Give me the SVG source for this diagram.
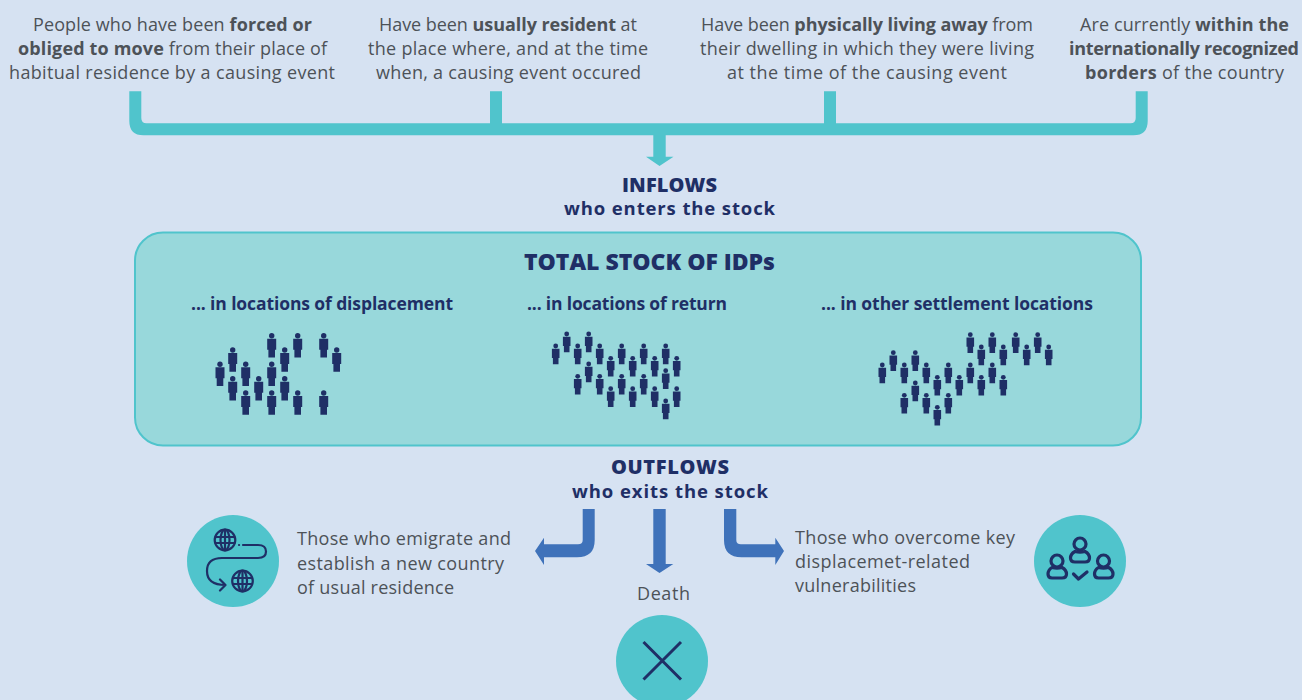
<svg xmlns="http://www.w3.org/2000/svg" xmlns:xlink="http://www.w3.org/1999/xlink" width="1302" height="700" viewBox="0 0 1302 700">
<style>
text{font-family:"Open Sans","Noto Sans",sans-serif}
.b{font-size:18px;fill:#4d5258;text-anchor:middle}
.l{font-size:18px;fill:#4d5258}
.s{font-weight:700}
.h{font-size:20px;font-weight:800;fill:#1f2f66;text-anchor:middle}
.g{font-size:18.500px;font-weight:700;fill:#1f2f66;text-anchor:middle}
.n{font-size:17.500px}
.i{fill:none;stroke:#1f2f66;stroke-width:2.200;stroke-linecap:round;stroke-linejoin:round}
.c{fill:#50c4cc}
.tf{fill:#50c4cc}
.of{fill:#3f72ba}
</style>
<defs>
<g id="p"><circle cx="0" cy="0" r="2.700" fill="#1f2f66"/><path d="M-4.500 3H4.500V14H3.300V21.700H-3.300V14H-4.500Z" fill="#1f2f66"/></g>
<g id="q"><circle cx="0" cy="0" r="2.400" fill="#1f2f66"/><path d="M-3.800 2.700H3.800V12H2.800V18.300H-2.800V12H-3.800Z" fill="#1f2f66"/></g>
</defs>
<rect width="1302" height="700" fill="#d6e2f2"/>
<g id="connectors">
<path class="tf" d="M129.300 91.300H141.300V118Q141.300 123.300 146.500 123.300H490V91.300H502V123.300H824V91.300H836V123.300H1130.500Q1135.700 123.300 1135.700 118V91.300H1147.700V121Q1147.700 135.300 1133.500 135.300H143.500Q129.300 135.300 129.300 121Z"/>
<path class="tf" d="M653.300 135H665.700V156.700H673.500L659.500 166L646 156.700H653.300Z"/>
<path class="of" d="M582.700 509H594.700V540Q594.700 557.300 577 557.300H544V565L535 551L544 537.700V544.300H578Q582.700 544.300 582.700 540Z"/>
<path class="of" d="M653.300 509H665.700V564H673.300L659.500 573L646 564H653.300Z"/>
<path class="of" d="M724 509H736.300V540Q736.300 544.300 741 544.300H775.300V537.700L784 551L775.300 565V557.300H741.500Q724 557.300 724 540Z"/>
</g>
<g id="criterion-1">
<text class="b" x="172.500" y="31" textLength="279">People who have been <tspan class="s">forced or</tspan></text>
<text class="b" x="172.500" y="55" textLength="309"><tspan class="s">obliged to move</tspan> from their place of</text>
<text class="b" x="172" y="79" textLength="326">habitual residence by a causing event</text>
</g>
<g id="criterion-2">
<text class="b" x="508" y="31" textLength="258">Have been <tspan class="s">usually resident</tspan> at</text>
<text class="b" x="508" y="55" textLength="280">the place where, and at the time</text>
<text class="b" x="508.500" y="79" textLength="265">when, a causing event occured</text>
</g>
<g id="criterion-3">
<text class="b" x="867" y="31" textLength="332">Have been <tspan class="s">physically living away</tspan> from</text>
<text class="b" x="867" y="55" textLength="334">their dwelling in which they were living</text>
<text class="b" x="867" y="79" textLength="280">at the time of the causing event</text>
</g>
<g id="criterion-4">
<text class="b" x="1184.500" y="31" textLength="209">Are currently <tspan class="s">within the</tspan></text>
<text class="b s" x="1184" y="55" textLength="230">internationally recognized</text>
<text class="b" x="1184.500" y="79" textLength="199"><tspan class="s">borders</tspan> of the country</text>
</g>
<g id="inflows">
<text class="h" x="669.500" y="191.500" textLength="95">INFLOWS</text>
<text class="g" x="669.500" y="215" textLength="211">who enters the stock</text>
</g>
<g id="stock">
<rect x="135" y="232.500" width="1006" height="213" rx="28" fill="#98d8db" stroke="#50c4cc" stroke-width="2"/>
<text class="h" x="649.500" y="269.500" textLength="251" style="font-size:23px">TOTAL STOCK OF IDPs</text>
</g>
<g id="displacement">
<text class="g n" x="322" y="310" textLength="262">... in locations of displacement</text>
<use xlink:href="#p" x="271.700" y="335.700"/><use xlink:href="#p" x="297.700" y="335.700"/><use xlink:href="#p" x="323.700" y="335.700"/>
<use xlink:href="#p" x="232.700" y="350"/><use xlink:href="#p" x="284.700" y="350"/><use xlink:href="#p" x="336.700" y="350"/>
<use xlink:href="#p" x="220" y="364.300"/><use xlink:href="#p" x="245.700" y="364.300"/><use xlink:href="#p" x="271.700" y="364.300"/>
<use xlink:href="#p" x="258.700" y="378.700"/><use xlink:href="#p" x="232.700" y="378.700"/><use xlink:href="#p" x="284.700" y="378.700"/>
<use xlink:href="#p" x="245.700" y="393"/><use xlink:href="#p" x="271.700" y="393"/><use xlink:href="#p" x="297.700" y="393"/><use xlink:href="#p" x="323.700" y="393"/>
</g>
<g id="return">
<text class="g n" x="627" y="310" textLength="200">... in locations of return</text>
<use xlink:href="#q" x="566.700" y="334"/><use xlink:href="#q" x="588.700" y="334"/>
<use xlink:href="#q" x="555.700" y="346"/><use xlink:href="#q" x="577.700" y="346"/><use xlink:href="#q" x="599.700" y="346"/><use xlink:href="#q" x="621.700" y="346"/><use xlink:href="#q" x="643.700" y="346"/><use xlink:href="#q" x="665.700" y="346"/>
<use xlink:href="#q" x="610.700" y="358.300"/><use xlink:href="#q" x="632.700" y="358.300"/><use xlink:href="#q" x="654.700" y="358.300"/><use xlink:href="#q" x="676.700" y="358.300"/>
<use xlink:href="#q" x="588.700" y="364"/><use xlink:href="#q" x="665.700" y="370.700"/>
<use xlink:href="#q" x="577.700" y="376.300"/><use xlink:href="#q" x="599.700" y="376.300"/><use xlink:href="#q" x="621.700" y="376.300"/><use xlink:href="#q" x="643.700" y="376.300"/>
<use xlink:href="#q" x="610.700" y="388.700"/><use xlink:href="#q" x="632.700" y="388.700"/><use xlink:href="#q" x="654.700" y="388.700"/><use xlink:href="#q" x="676.700" y="388.700"/>
<use xlink:href="#q" x="665.700" y="401"/>
</g>
<g id="other">
<text class="g n" x="957" y="310" textLength="272">... in other settlement locations</text>
<use xlink:href="#q" x="970.300" y="334.700"/><use xlink:href="#q" x="992.300" y="334.700"/><use xlink:href="#q" x="1015.700" y="334.700"/><use xlink:href="#q" x="1037.700" y="334.700"/>
<use xlink:href="#q" x="981.300" y="347"/><use xlink:href="#q" x="1003.300" y="347"/><use xlink:href="#q" x="1026.700" y="347"/><use xlink:href="#q" x="1048.700" y="347"/>
<use xlink:href="#q" x="893.300" y="352.700"/><use xlink:href="#q" x="915.300" y="352.700"/>
<use xlink:href="#q" x="882.300" y="365"/><use xlink:href="#q" x="904.300" y="365"/><use xlink:href="#q" x="926.300" y="365"/><use xlink:href="#q" x="948.300" y="365"/><use xlink:href="#q" x="970.300" y="365"/><use xlink:href="#q" x="992.300" y="365"/>
<use xlink:href="#q" x="937.300" y="377.300"/><use xlink:href="#q" x="959.300" y="377.300"/><use xlink:href="#q" x="981.300" y="377.300"/><use xlink:href="#q" x="1003.300" y="377.300"/>
<use xlink:href="#q" x="915.300" y="383"/>
<use xlink:href="#q" x="904.300" y="395.300"/><use xlink:href="#q" x="926.300" y="395.300"/><use xlink:href="#q" x="948.300" y="395.300"/>
<use xlink:href="#q" x="937.300" y="407.300"/>
</g>
<g id="outflows">
<text class="h" x="670" y="473.500" textLength="118">OUTFLOWS</text>
<text class="g" x="670" y="498" textLength="196">who exits the stock</text>
</g>
<g id="emigrate">
<circle class="c" cx="233" cy="561" r="46"/>
<g class="i">
<circle cx="225" cy="540" r="10.300"/><ellipse cx="225" cy="540" rx="4.500" ry="10.300"/><path d="M225 530V550M215.500 537H234.500M215.500 543H234.500"/>
<circle cx="242.500" cy="581" r="10.300"/><ellipse cx="242.500" cy="581" rx="4.500" ry="10.300"/><path d="M242.500 571V591M233 578H252M233 584H252"/>
<path d="M239 545H239.100M243 545H258Q266 545 266 551.500Q266 558 258 558H222Q207 558 207 571Q207 585 225.500 585M220 579.500L225.500 585L220 590.500"/>
</g>
<text class="l" x="297" y="545" textLength="214">Those who emigrate and</text>
<text class="l" x="297" y="570" textLength="207">establish a new country</text>
<text class="l" x="297" y="594" textLength="157">of usual residence</text>
</g>
<g id="death">
<text class="b" x="663.500" y="600" textLength="53">Death</text>
<circle class="c" cx="662" cy="661" r="46"/>
<path d="M643.500 642L681 679.500M681 642L643.500 679.500" fill="none" stroke="#1f2f66" stroke-width="3"/>
</g>
<g id="overcome">
<text class="l" x="795" y="544" textLength="220">Those who overcome key</text>
<text class="l" x="795" y="568" textLength="175">displacemet-related</text>
<text class="l" x="795" y="592" textLength="121">vulnerabilities</text>
<circle class="c" cx="1080" cy="561" r="46"/>
<g class="i" style="stroke-width:3.200">
<circle cx="1080" cy="544" r="6"/><path d="M1075 551.500Q1070.500 554 1070.500 558Q1070.500 562 1075 562H1085Q1089.500 562 1089.500 558Q1089.500 554 1085 551.500Q1080 553 1075 551.500Z"/>
<circle cx="1057" cy="561" r="6"/><path d="M1052 567.500Q1048 570 1048 574Q1048 578 1052 578H1062Q1066.500 578 1066.500 574Q1066.500 570 1062 567.500Q1057 569 1052 567.500Z"/>
<circle cx="1103.500" cy="561" r="6"/><path d="M1098.500 567.500Q1094.500 570 1094.500 574Q1094.500 578 1098.500 578H1108.500Q1113 578 1113 574Q1113 570 1108.500 567.500Q1103.500 569 1098.500 567.500Z"/>
<path d="M1073.500 574L1078.500 579L1087 572"/>
</g>
</g>
</svg>
